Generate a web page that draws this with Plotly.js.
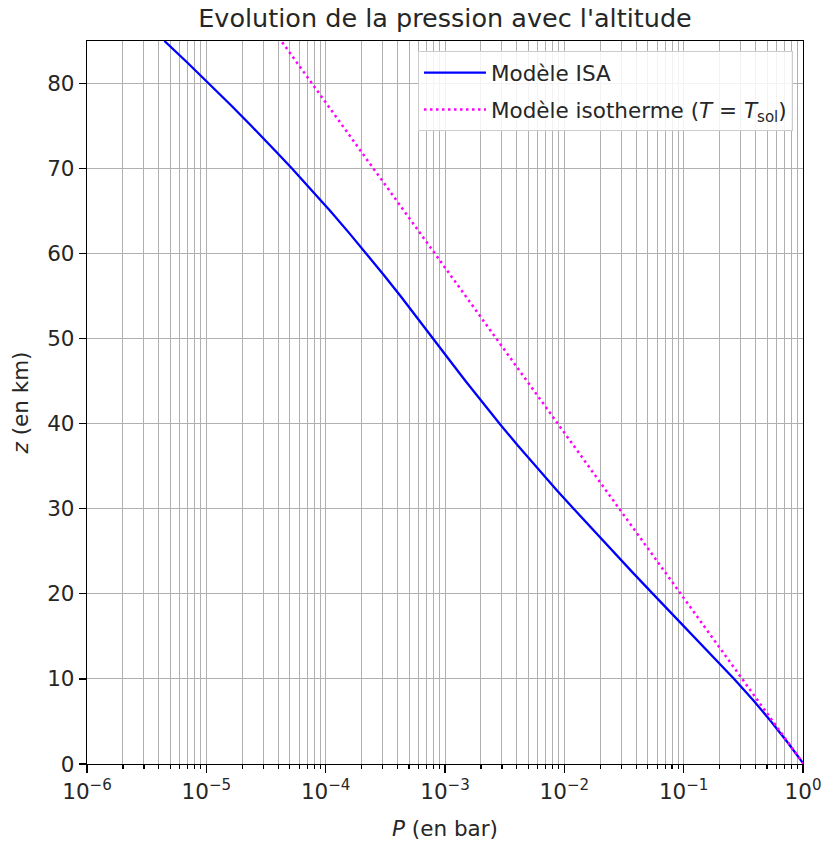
<!DOCTYPE html>
<html>
<head>
<meta charset="utf-8">
<script src="https://cdn.plot.ly/plotly-3.0.1.min.js"></script>
<style>html,body{margin:0;padding:0;background:#fff;}#chart{width:821px;height:843px;}</style>
</head>
<body>
<div id="chart"></div>
<script>
// Altitudes (km) and pressures (bar) for the ISA model
const isaAltitude = [0, 2.5, 5, 7.5, 10, 11.02, 15, 20, 20.06, 22.5, 25, 27.5, 30, 32.16, 35, 37.5, 40, 42.5, 45, 47.35, 50, 51.41, 52.5, 55, 57.5, 60, 62.5, 65, 67.5, 70, 71.8, 72.5, 75, 77.5, 80, 82.5, 85];
const isaPressure = [1.01325, 0.7469, 0.5405, 0.3830, 0.2650, 0.2263, 0.1211, 0.05530, 0.05475, 0.03745, 0.02549, 0.01743, 0.01197, 0.008680, 0.005745, 0.004041, 0.002871, 0.002060, 0.001491, 0.001109, 0.0007978, 0.0006694, 0.0005844, 0.0004252, 0.0003069, 0.0002196, 0.0001557, 0.0001093, 0.00007594, 0.00005221, 0.00003956, 0.00003548, 0.00002388, 0.00001593, 0.00001052, 0.000006884, 0.000004457];

// Altitudes (km) and pressures (bar) for the isothermal model
const isoAltitude = [0, 5, 10, 15, 20, 25, 30, 35, 40, 45, 50, 55, 60, 65, 70, 75, 80, 85];
const isoPressure = [1.01325, 0.5600, 0.3095, 0.1711, 0.09457, 0.05227, 0.02889, 0.01597, 0.008826, 0.004878, 0.002696, 0.001490, 0.0008238, 0.0004553, 0.0002517, 0.0001391, 0.00007690, 0.00004250];

const xTickVals = [1e-6, 1e-5, 1e-4, 1e-3, 1e-2, 1e-1, 1];
const xTickText = ['10<sup>−6</sup>', '10<sup>−5</sup>', '10<sup>−4</sup>', '10<sup>−3</sup>', '10<sup>−2</sup>', '10<sup>−1</sup>', '10<sup>0</sup>'];
const yTickVals = [0, 10, 20, 30, 40, 50, 60, 70, 80];

const minorVals = [];
for (let e = -6; e < 0; e++) for (let m = 2; m <= 9; m++) minorVals.push(m * Math.pow(10, e));

const FONT = 'DejaVu Sans, sans-serif';
const FS = 21.5;

const traces = [
  {x: isaPressure, y: isaAltitude, mode: 'lines', name: 'Modèle ISA', legendgroup: 'a',
   line: {color: '#0000ff', width: 2.3}},
  {x: isoPressure, y: isoAltitude, mode: 'lines', name: 'Modèle isotherme (<i>T</i> = <i>T</i><sub>sol</sub>)', legendgroup: 'b',
   line: {color: '#ff00ff', width: 2.5, dash: '2.5px,3.5px'}}
];

const layout = {
  width: 821, height: 843,
  margin: {l: 87, r: 18, t: 41, b: 79},
  paper_bgcolor: '#ffffff', plot_bgcolor: '#ffffff',
  font: {family: FONT, size: FS, color: '#262626'},
  title: {text: "Evolution de la pression avec l'altitude", font: {family: FONT, size: 25.5, color: '#262626'},
          xref: 'paper', x: 0.5, xanchor: 'center', y: 0.979, yanchor: 'middle'},
  showlegend: true,
  legend: {x: 0.986, y: 0.986, xanchor: 'right', yanchor: 'top', traceorder: 'grouped',
           bgcolor: 'rgba(255,255,255,0.85)', bordercolor: '#cccccc', borderwidth: 1,
           itemwidth: 62,
           font: {family: FONT, size: FS, color: '#262626'}, tracegroupgap: 6},
  xaxis: {type: 'log', range: [-6, 0], autorange: false,
          tickmode: 'array', tickvals: xTickVals, ticktext: xTickText,
          ticklabeloverflow: 'allow',
          ticks: 'outside', ticklen: 8, tickwidth: 1.2, tickcolor: '#000',
          showline: true, linecolor: '#000', linewidth: 1.2, mirror: true,
          showgrid: true, gridcolor: '#b0b0b0', gridwidth: 1, zeroline: false,
          minor: {tickmode: 'array', tickvals: minorVals, ticks: 'outside', ticklen: 4, tickcolor: '#000',
                  showgrid: true, gridcolor: '#b0b0b0', gridwidth: 1},
          tickfont: {family: FONT, size: FS, color: '#262626'},
          title: {text: '<i>P</i> (en bar)', font: {family: FONT, size: FS, color: '#262626'}, standoff: 18}},
  yaxis: {range: [0, 85], autorange: false,
          tickmode: 'array', tickvals: yTickVals,
          ticks: 'outside', ticklen: 7, tickwidth: 1.2, tickcolor: '#000',
          showline: true, linecolor: '#000', linewidth: 1.2, mirror: true,
          showgrid: true, gridcolor: '#b0b0b0', gridwidth: 1, zeroline: false,
          tickfont: {family: FONT, size: FS, color: '#262626'},
          title: {text: '<i>z</i> (en km)', font: {family: FONT, size: FS, color: '#262626'}, standoff: 12}}
};

Plotly.newPlot('chart', traces, layout, {displayModeBar: false, staticPlot: true});
</script>
</body>
</html>
